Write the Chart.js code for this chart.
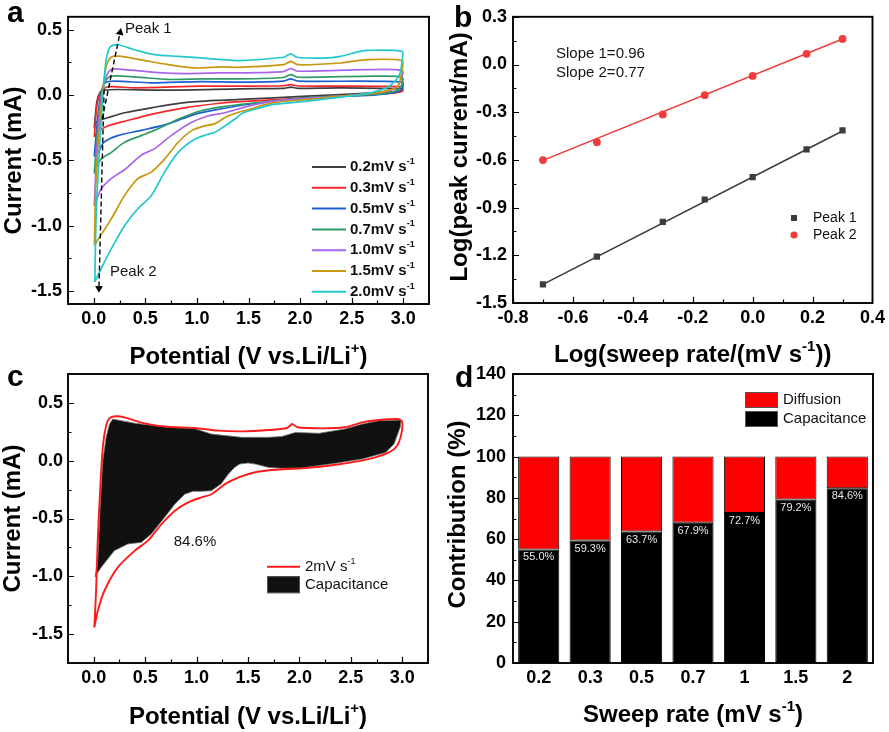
<!DOCTYPE html>
<html>
<head>
<meta charset="utf-8">
<script src="https://cdn.jsdelivr.net/npm/chart.js@4.4.0/dist/chart.umd.min.js"></script>
<style>
  html, body { margin: 0; padding: 0; background: #fff; }
  #wrap { position: relative; width: 889px; height: 732px; overflow: hidden; background: #fff; }
  #wrap canvas { position: absolute; }
</style>
</head>
<body>
<div id="wrap">
  <canvas id="cvA" width="444" height="372" style="left:0;top:0"></canvas>
  <canvas id="cvB" width="445" height="372" style="left:444px;top:0"></canvas>
  <canvas id="cvC" width="444" height="376" style="left:0;top:356px"></canvas>
  <canvas id="cvD" width="445" height="376" style="left:444px;top:356px"></canvas>
</div>
<script>
const FAM = '"Liberation Sans", Arial, Helvetica, sans-serif';
Chart.defaults.font.family = FAM;

// ---------- a: CV loops at several sweep rates (potential V, current mA)
const rateNames = ['0.2mV s^{-1}', '0.3mV s^{-1}', '0.5mV s^{-1}', '0.7mV s^{-1}', '1.0mV s^{-1}', '1.5mV s^{-1}', '2.0mV s^{-1}'];
const v02 = [0.005,0.03,0.06,0.10,0.233,0.72,1.417,1.84,1.91,1.98,2.39,2.99,2.99,2.71,2.07,1.417,1.20,0.88,0.557,0.30,0.136,0.07,0.02,0.005];
const i02 = [-0.25,-0.05,0.02,0.038,0.043,0.038,0.048,0.052,0.061,0.052,0.056,0.048,0.03,0.018,-0.008,-0.033,-0.04,-0.058,-0.097,-0.135,-0.173,-0.19,-0.21,-0.25];
const v03 = [0.005,0.03,0.07,0.136,0.395,1.04,1.417,1.84,1.91,1.98,2.99,2.99,2.87,2.39,1.417,1.20,0.88,0.557,0.30,0.136,0.055,0.005];
const i03 = [-0.32,-0.08,0.03,0.064,0.056,0.069,0.069,0.072,0.081,0.070,0.064,0.03,0.013,-0.008,-0.05,-0.064,-0.097,-0.147,-0.20,-0.236,-0.27,-0.32];
const v05 = [0.005,0.04,0.07,0.11,0.20,0.557,1.04,1.417,1.84,1.91,1.98,2.99,2.99,2.93,2.71,2.07,1.50,1.20,0.977,0.72,0.46,0.233,0.10,0.04,0.005];
const i05 = [-0.47,-0.16,0.018,0.094,0.107,0.094,0.104,0.10,0.108,0.124,0.107,0.10,0.048,0.023,0.0,-0.02,-0.07,-0.11,-0.147,-0.22,-0.27,-0.31,-0.36,-0.44,-0.47];
const v07 = [0.005,0.04,0.07,0.11,0.168,0.395,0.72,1.04,1.417,1.84,1.91,1.98,2.71,2.99,2.98,2.92,2.71,2.07,1.50,1.24,1.04,0.816,0.62,0.46,0.30,0.168,0.071,0.013,0.005];
const i07 = [-0.60,-0.24,-0.01,0.107,0.145,0.14,0.12,0.125,0.124,0.135,0.157,0.137,0.145,0.137,0.069,0.03,0.005,-0.02,-0.064,-0.09,-0.12,-0.185,-0.26,-0.31,-0.36,-0.44,-0.49,-0.57,-0.60];
const v10 = [0.005,0.03,0.07,0.11,0.168,0.30,0.59,0.91,1.20,1.417,1.84,1.91,1.98,2.65,2.99,2.98,2.93,2.80,2.39,1.74,1.50,1.27,1.107,0.945,0.75,0.59,0.46,0.30,0.168,0.071,0.013,0.005];
const i10 = [-0.85,-0.41,-0.03,0.12,0.196,0.196,0.175,0.165,0.17,0.17,0.18,0.203,0.183,0.195,0.188,0.12,0.056,0.023,-0.008,-0.046,-0.084,-0.135,-0.16,-0.21,-0.31,-0.41,-0.46,-0.57,-0.64,-0.72,-0.83,-0.85];
const v15 = [0.006,0.02,0.055,0.087,0.12,0.168,0.265,0.46,0.72,0.98,1.24,1.417,1.84,1.91,1.98,2.39,2.65,2.99,2.99,2.95,2.87,2.71,2.39,2.07,1.74,1.50,1.30,1.17,1.07,0.945,0.816,0.686,0.557,0.427,0.298,0.168,0.071,0.006];
const i15 = [-1.15,-0.67,-0.24,0.04,0.22,0.29,0.297,0.27,0.234,0.208,0.216,0.213,0.233,0.259,0.233,0.246,0.272,0.264,0.195,0.069,0.038,0.013,-0.008,-0.033,-0.058,-0.11,-0.16,-0.22,-0.236,-0.274,-0.363,-0.49,-0.59,-0.64,-0.77,-0.95,-1.07,-1.15];
const v20 = [0.01,0.023,0.055,0.087,0.12,0.16,0.233,0.395,0.59,0.815,1.04,1.24,1.417,1.84,1.91,1.97,2.23,2.39,2.58,2.65,2.99,2.99,2.97,2.92,2.84,2.71,2.55,2.39,2.07,1.74,1.60,1.45,1.366,1.27,1.17,1.107,0.977,0.816,0.686,0.557,0.427,0.298,0.168,0.071,0.01];
const i20 = [-1.43,-0.92,-0.41,-0.03,0.27,0.37,0.386,0.348,0.31,0.297,0.285,0.272,0.264,0.29,0.317,0.29,0.284,0.297,0.335,0.343,0.335,0.272,0.17,0.107,0.056,0.023,0.0,-0.015,-0.046,-0.071,-0.10,-0.135,-0.185,-0.236,-0.287,-0.30,-0.338,-0.44,-0.59,-0.77,-0.87,-1.0,-1.18,-1.33,-1.43];
// dashed guide arrows (Peak 1 up, Peak 2 down)
const peak1ArrowV = [0.081, 0.255], peak1ArrowI = [-0.185, 0.48];
const peak2ArrowV = [0.10, 0.05], peak2ArrowI = [0.043, -1.48];
const aXTicks = [0, 0.5, 1, 1.5, 2, 2.5, 3];
const aYTicks = [-1.5, -1, -0.5, 0, 0.5];

// ---------- b: log(peak current) vs log(sweep rate)
const logRate = [-0.70, -0.52, -0.30, -0.16, 0.00, 0.18, 0.30];
const logPeak1 = [-1.383, -1.209, -0.990, -0.849, -0.709, -0.534, -0.414];
const logPeak2 = [-0.601, -0.489, -0.314, -0.193, -0.072, 0.067, 0.161];
const fitRate = [-0.70, 0.30];
const fitPeak1 = [-1.383, -0.418];
const fitPeak2 = [-0.603, 0.160];
const bXTicks = [-0.8, -0.6, -0.4, -0.2, 0, 0.2, 0.4];
const bYTicks = [-1.5, -1.2, -0.9, -0.6, -0.3, 0, 0.3];

// ---------- c: CV at 2 mV/s and capacitive region
const cvV = [0.006,0.023,0.039,0.062,0.088,0.12,0.153,0.218,0.30,0.495,0.72,0.98,1.21,1.44,1.70,1.88,1.93,1.98,2.22,2.44,2.61,2.77,2.97,3.00,2.99,2.95,2.87,2.67,2.35,2.02,1.76,1.57,1.41,1.28,1.145,1.05,0.918,0.79,0.66,0.527,0.397,0.234,0.104,0.039,0.006];
const cvI = [-1.443,-1.125,-0.69,-0.26,0.115,0.30,0.366,0.384,0.375,0.323,0.294,0.283,0.26,0.254,0.265,0.283,0.317,0.289,0.28,0.289,0.332,0.352,0.36,0.332,0.23,0.13,0.072,0.014,-0.035,-0.066,-0.078,-0.10,-0.144,-0.20,-0.29,-0.317,-0.36,-0.433,-0.548,-0.692,-0.78,-0.923,-1.125,-1.3,-1.443];
const capV = [0.185,0.397,0.72,0.98,1.145,1.44,1.70,1.83,1.96,2.19,2.44,2.61,2.77,2.99,2.98,2.92,2.84,2.61,2.35,2.02,1.83,1.70,1.57,1.50,1.42,1.37,1.31,1.24,1.145,1.05,0.967,0.885,0.79,0.69,0.56,0.462,0.332,0.20,0.072,0.013,0.039,0.062,0.088,0.12,0.153,0.185];
const capI = [0.36,0.325,0.29,0.278,0.23,0.202,0.202,0.21,0.245,0.237,0.274,0.317,0.346,0.352,0.29,0.144,0.072,0.014,-0.023,-0.063,-0.066,-0.058,-0.029,-0.02,-0.029,-0.058,-0.115,-0.20,-0.26,-0.265,-0.265,-0.29,-0.375,-0.49,-0.635,-0.707,-0.72,-0.779,-0.923,-1.004,-0.866,-0.404,0.0,0.2,0.317,0.36];
const cYTicks = [-1.5, -1, -0.5, 0, 0.5];

// ---------- d: contribution ratios
const sweepRates = ['0.2', '0.3', '0.5', '0.7', '1', '1.5', '2'];
const capacitive = [55.0, 59.3, 63.7, 67.9, 72.7, 79.2, 84.6];
const diffusion = [45.0, 40.7, 36.3, 32.1, 27.3, 20.8, 15.4];
const dYTicks = [0, 20, 40, 60, 80, 100, 120, 140];

const cvColors = ['#3f3f3f', '#f5262a', '#1c5fd0', '#2f9a63', '#a766ea', '#c8960f', '#22c8cc'];

function xy(xs, ys) { return xs.map((x, k) => ({ x, y: ys[k] })); }

// text with ^{...} superscripts
function richParts(str) {
  const out = []; const re = /\^\{([^}]*)\}/g; let last = 0, m;
  while ((m = re.exec(str))) {
    if (m.index > last) out.push({ t: str.slice(last, m.index), sup: false });
    out.push({ t: m[1], sup: true });
    last = re.lastIndex;
  }
  if (last < str.length) out.push({ t: str.slice(last), sup: false });
  return out;
}
function rich(ctx, str, x, y, size, weight, align, color) {
  const ps = richParts(str);
  const fontOf = p => `${weight} ${p.sup ? Math.round(size * 0.62) : size}px ${FAM}`;
  let w = 0;
  ps.forEach(p => { ctx.font = fontOf(p); p.w = ctx.measureText(p.t).width; w += p.w; });
  let cx = align === 'center' ? x - w / 2 : align === 'right' ? x - w : x;
  ctx.textAlign = 'left'; ctx.textBaseline = 'middle'; ctx.fillStyle = color;
  ps.forEach(p => { ctx.font = fontOf(p); ctx.fillText(p.t, cx, p.sup ? y - size * 0.36 : y); cx += p.w; });
}

function inTicks(ctx, scale, a, horiz, minor) {
  const vals = scale.ticks.map(t => t.value);
  const seg = (v, len) => {
    const p = Math.round(scale.getPixelForValue(v)) + 0.5;
    if (horiz) { ctx.moveTo(p, a.bottom); ctx.lineTo(p, a.bottom - len); }
    else { ctx.moveTo(a.left, p); ctx.lineTo(a.left + len, p); }
  };
  ctx.beginPath();
  vals.forEach(v => seg(v, 6));
  if (minor) for (let k = 0; k + 1 < vals.length; k++) seg((vals[k] + vals[k + 1]) / 2, 3.5);
  ctx.stroke();
}

function drawLegend(ctx, L) {
  L.items.forEach((it, k) => {
    const y = L.y + k * L.dy, x = L.x;
    if (it.kind === 'line') {
      ctx.strokeStyle = it.color; ctx.lineWidth = 2;
      ctx.beginPath(); ctx.moveTo(x, y); ctx.lineTo(x + L.w, y); ctx.stroke();
    } else if (it.kind === 'box') {
      ctx.fillStyle = it.color; ctx.fillRect(x, y - L.h / 2, L.w, L.h);
      ctx.strokeStyle = '#555'; ctx.lineWidth = 1; ctx.strokeRect(x + 0.5, y - L.h / 2 + 0.5, L.w - 1, L.h - 1);
    } else if (it.kind === 'rect') {
      ctx.fillStyle = it.color; ctx.fillRect(x + L.w / 2 - 3, y - 3, 6, 6);
    } else if (it.kind === 'circle') {
      ctx.fillStyle = it.color; ctx.beginPath(); ctx.arc(x + L.w / 2, y, 3.6, 0, Math.PI * 2); ctx.fill();
    }
    rich(ctx, it.label, x + L.w + L.gap, y, L.size, L.weight, 'left', '#111');
  });
}

function makeDeco(cfg) {
  return {
    id: 'deco',
    afterDraw(chart) {
      const ctx = chart.ctx, a = chart.chartArea;
      ctx.save();
      ctx.strokeStyle = '#000'; ctx.lineWidth = 1.2;
      if (cfg.xTicks) inTicks(ctx, chart.scales.x, a, true, cfg.xMinor);
      inTicks(ctx, chart.scales.y, a, false, cfg.yMinor);
      ctx.lineWidth = 1.9; ctx.strokeStyle = '#000';
      ctx.strokeRect(a.left, a.top, a.right - a.left, a.bottom - a.top);
      rich(ctx, cfg.xTitle, (a.left + a.right) / 2, cfg.xTitleY, 24, 'bold', 'center', '#000');
      ctx.save();
      ctx.translate(cfg.yTitleX, (a.top + a.bottom) / 2 + (cfg.yTitleDy || 0));
      ctx.rotate(-Math.PI / 2);
      rich(ctx, cfg.yTitle, 0, 0, 24, 'bold', 'center', '#000');
      ctx.restore();
      ctx.font = `bold 30px ${FAM}`; ctx.fillStyle = '#000';
      ctx.textAlign = 'left'; ctx.textBaseline = 'alphabetic';
      ctx.fillText(cfg.letter, cfg.letterX, cfg.letterY);
      (cfg.texts || []).forEach(t => rich(ctx, t.text, t.x, t.y, 15, 'normal', t.align || 'left', '#151515'));
      if (cfg.barLabels) {
        const meta = chart.getDatasetMeta(0);
        ctx.font = `11px ${FAM}`; ctx.fillStyle = '#e8e8e8'; ctx.textAlign = 'center'; ctx.textBaseline = 'middle';
        meta.data.forEach((el, k) => ctx.fillText(capacitive[k].toFixed(1) + '%', el.x, el.y + 8));
      }
      if (cfg.legend) drawLegend(ctx, cfg.legend);
      ctx.restore();
    }
  };
}

const tickFont = { family: FAM, size: 18, weight: 'bold' };
function linAxis(min, max, ticks, fmt, fixSize, horiz, pad) {
  return {
    type: 'linear', min, max,
    afterBuildTicks: s => { s.ticks = ticks.map(v => ({ value: v })); },
    afterFit: s => { if (horiz) s.height = fixSize; else s.width = fixSize; },
    grid: { display: false, drawTicks: false },
    border: { display: false },
    title: { display: false },
    ticks: { font: tickFont, color: '#000', padding: pad, maxRotation: 0, autoSkip: false, callback: fmt }
  };
}
const f1 = v => Number(v).toFixed(1);
const baseOpts = { responsive: false, animation: false, events: [], plugins: { legend: { display: false }, tooltip: { enabled: false } } };

// ---- chart a
const cvX = [v02, v03, v05, v07, v10, v15, v20];
const cvY = [i02, i03, i05, i07, i10, i15, i20];
const aSets = cvX.map((xs, k) => ({
  label: rateNames[k], data: xy(xs, cvY[k]), showLine: true, pointRadius: 0,
  borderColor: cvColors[k], borderWidth: 1.7, tension: 0.25, order: 10 - k
}));
aSets.push({ data: xy(peak1ArrowV, peak1ArrowI), showLine: true, borderColor: '#000', borderWidth: 1.4, borderDash: [5, 3],
  pointRadius: [0, 4.5], pointStyle: 'triangle', pointRotation: [0, 11.5], pointBackgroundColor: '#000', pointBorderWidth: 0, order: 0 });
aSets.push({ data: xy(peak2ArrowV, peak2ArrowI), showLine: true, borderColor: '#000', borderWidth: 1.4, borderDash: [5, 3],
  pointRadius: [0, 4.5], pointStyle: 'triangle', pointRotation: [0, 181.5], pointBackgroundColor: '#000', pointBorderWidth: 0, order: 0 });

new Chart(document.getElementById('cvA'), {
  type: 'scatter',
  data: { datasets: aSets },
  options: Object.assign({}, baseOpts, {
    layout: { padding: { top: 15, right: 15, left: 0, bottom: 0 } },
    scales: { x: linAxis(-0.25, 3.25, aXTicks, f1, 68, true, 4), y: linAxis(-1.6, 0.6, aYTicks, f1, 68, false, 6) }
  }),
  plugins: [makeDeco({
    xTicks: true, xMinor: true, yMinor: true,
    xTitle: 'Potential (V vs.Li/Li^{+})', xTitleY: 357,
    yTitle: 'Current (mA)', yTitleX: 14,
    letter: 'a', letterX: 7, letterY: 22,
    texts: [{ text: 'Peak 1', x: 125, y: 29 }, { text: 'Peak 2', x: 110, y: 272 }],
    legend: { x: 312, y: 167, dy: 20.8, w: 34, gap: 4, size: 15, weight: 'bold',
      items: rateNames.map((n, k) => ({ kind: 'line', color: cvColors[k], label: n })) }
  })]
});

// ---- chart b
new Chart(document.getElementById('cvB'), {
  type: 'scatter',
  data: { datasets: [
    { label: 'Peak 1', data: xy(logRate, logPeak1), pointStyle: 'rect', pointRadius: 4.4, backgroundColor: '#3c3c3c', borderColor: '#3c3c3c', borderWidth: 0, order: 0 },
    { label: 'Peak 2', data: xy(logRate, logPeak2), pointStyle: 'circle', pointRadius: 3.9, backgroundColor: '#f23b3b', borderColor: '#f23b3b', borderWidth: 0, order: 0 },
    { data: xy(fitRate, fitPeak1), showLine: true, pointRadius: 0, borderColor: '#3c3c3c', borderWidth: 1.6, order: 1 },
    { data: xy(fitRate, fitPeak2), showLine: true, pointRadius: 0, borderColor: '#f23b3b', borderWidth: 1.6, order: 1 }
  ] },
  options: Object.assign({}, baseOpts, {
    layout: { padding: { top: 15, right: 16, left: 0, bottom: 0 } },
    scales: { x: linAxis(-0.8, 0.4, bXTicks, f1, 69, true, 4), y: linAxis(-1.5, 0.3, bYTicks, f1, 69, false, 6) }
  }),
  plugins: [makeDeco({
    xTicks: true, xMinor: true, yMinor: true,
    xTitle: 'Log(sweep rate/(mV s^{-1}))', xTitleY: 355,
    yTitle: 'Log(peak current/mA)', yTitleX: 16, yTitleDy: -3,
    letter: 'b', letterX: 10, letterY: 27,
    texts: [{ text: 'Slope 1=0.96', x: 112, y: 54 }, { text: 'Slope 2=0.77', x: 112, y: 73 }],
    legend: { x: 347, y: 218, dy: 17, w: 6, gap: 16, size: 14, weight: 'normal',
      items: [{ kind: 'rect', color: '#3c3c3c', label: 'Peak 1' }, { kind: 'circle', color: '#f23b3b', label: 'Peak 2' }] }
  })]
});

// ---- chart c
new Chart(document.getElementById('cvC'), {
  type: 'scatter',
  data: { datasets: [
    { label: '2mV s-1', data: xy(cvV, cvI), showLine: true, pointRadius: 0, borderColor: '#ff1a1a', borderWidth: 1.9, tension: 0.25, order: 0 },
    { label: 'Capacitance', data: xy(capV, capI), showLine: true, pointRadius: 0, borderColor: '#777', borderWidth: 0.8,
      backgroundColor: '#111', fill: 'shape', tension: 0, order: 1 }
  ] },
  options: Object.assign({}, baseOpts, {
    layout: { padding: { top: 18, right: 16, left: 0, bottom: 0 } },
    scales: { x: linAxis(-0.25, 3.25, aXTicks, f1, 69, true, 4), y: linAxis(-1.75, 0.75, cYTicks, f1, 68, false, 5) }
  }),
  plugins: [makeDeco({
    xTicks: true, xMinor: true, yMinor: true,
    xTitle: 'Potential (V vs.Li/Li^{+})', xTitleY: 361,
    yTitle: 'Current (mA)', yTitleX: 13,
    letter: 'c', letterX: 7, letterY: 30,
    texts: [{ text: '84.6%', x: 195, y: 186, align: 'center' }],
    legend: { x: 267, y: 210.7, dy: 18, w: 33, h: 17, gap: 5, size: 15, weight: 'normal',
      items: [{ kind: 'line', color: '#ff1a1a', label: '2mV s^{-1}' }, { kind: 'box', color: '#111', label: 'Capacitance' }] }
  })]
});

// ---- chart d
new Chart(document.getElementById('cvD'), {
  type: 'bar',
  data: { labels: sweepRates, datasets: [
    { label: 'Capacitance', data: capacitive, backgroundColor: '#000', borderColor: '#000', borderWidth: 1, borderSkipped: false, barPercentage: 0.8, categoryPercentage: 1.0 },
    { label: 'Diffusion', data: diffusion, backgroundColor: '#ff0000', borderColor: '#000', borderWidth: 1, borderSkipped: false, barPercentage: 0.8, categoryPercentage: 1.0 }
  ] },
  options: Object.assign({}, baseOpts, {
    layout: { padding: { top: 18, right: 16, left: 0, bottom: 0 } },
    scales: {
      x: { type: 'category', stacked: true, afterFit: s => { s.height = 69; },
        grid: { display: false, drawTicks: false }, border: { display: false },
        ticks: { font: tickFont, color: '#000', padding: 4, maxRotation: 0, autoSkip: false } },
      y: Object.assign(linAxis(0, 140, dYTicks, v => String(v), 69, false, 7), { stacked: true })
    }
  }),
  plugins: [makeDeco({
    xTicks: false, yMinor: true,
    xTitle: 'Sweep rate (mV s^{-1})', xTitleY: 359,
    yTitle: 'Contribution (%)', yTitleX: 14, yTitleDy: -4,
    letter: 'd', letterX: 11, letterY: 31, barLabels: true,
    legend: { x: 301, y: 44, dy: 19, w: 33, h: 16, gap: 5, size: 15, weight: 'normal',
      items: [{ kind: 'box', color: '#ff0000', label: 'Diffusion' }, { kind: 'box', color: '#000', label: 'Capacitance' }] }
  })]
});
</script>
</body>
</html>
